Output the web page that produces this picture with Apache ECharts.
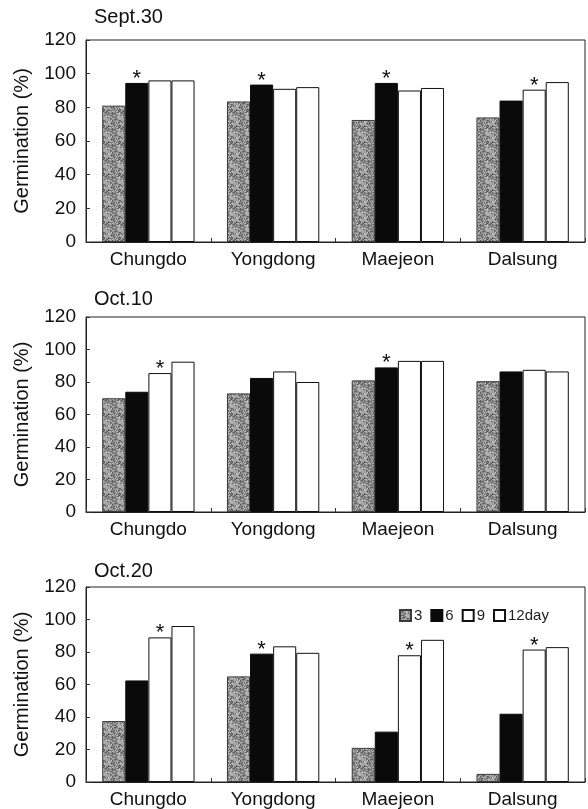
<!DOCTYPE html>
<html>
<head>
<meta charset="utf-8">
<script src="https://cdn.jsdelivr.net/npm/echarts@6/dist/echarts.min.js"></script>
<style>
html,body{margin:0;padding:0;background:#fff;}
#main{width:588px;height:809px;}
</style>
</head>
<body>
<div id="main"></div>
<script>
// ---- data ----
const categories = ['Chungdo', 'Yongdong', 'Maejeon', 'Dalsung'];
const seriesNames = ['3', '6', '9', '12day'];
const panelTitles = ['Sept.30', 'Oct.10', 'Oct.20'];
const yTicks = [0, 20, 40, 60, 80, 100, 120];

const sep30Day3  = [81, 83.5, 72.5, 74];
const sep30Day6  = [94.5, 93.5, 94.5, 84];
const sep30Day9  = [96, 91, 90, 90.5];
const sep30Day12 = [96, 92, 91.5, 95];

const oct10Day3  = [70, 73, 81, 80.5];
const oct10Day6  = [74, 82.5, 89, 86.5];
const oct10Day9  = [85.5, 86.5, 93, 87.5];
const oct10Day12 = [92.5, 80, 93, 86.5];

const oct20Day3  = [37.5, 65, 21, 5];
const oct20Day6  = [62.5, 79, 31, 42];
const oct20Day9  = [89, 83.5, 78, 81.5];
const oct20Day12 = [96, 79.5, 87.5, 83];

// asterisk flags (1 = significant mark above the bar)
const sep30Star3 = [0,0,0,0], sep30Star6 = [1,1,1,0], sep30Star9 = [0,0,0,1], sep30Star12 = [0,0,0,0];
const oct10Star3 = [0,0,0,0], oct10Star6 = [0,0,1,0], oct10Star9 = [1,0,0,0], oct10Star12 = [0,0,0,0];
const oct20Star3 = [0,0,0,0], oct20Star6 = [0,1,0,0], oct20Star9 = [1,0,1,1], oct20Star12 = [0,0,0,0];

const panelValues = [
  [sep30Day3, sep30Day6, sep30Day9, sep30Day12],
  [oct10Day3, oct10Day6, oct10Day9, oct10Day12],
  [oct20Day3, oct20Day6, oct20Day9, oct20Day12]
];
const panelStars = [
  [sep30Star3, sep30Star6, sep30Star9, sep30Star12],
  [oct10Star3, oct10Star6, oct10Star9, oct10Star12],
  [oct20Star3, oct20Star6, oct20Star9, oct20Star12]
];

// ---- styling ----
const FONT = 'Arial, "Liberation Sans", Helvetica, sans-serif';
const gridTops = [40, 317, 587];
const gridHeights = [202, 195, 195];
const titleTops = [7, 289, 561];

// speckled gray texture (deterministic hash, styling only)
const tex = document.createElement('canvas');
tex.width = 16; tex.height = 16;
const tctx = tex.getContext('2d');
const shades = ['#5e5e5e', '#8a8a8a', '#a8a8a8', '#bdbdbd', '#969696', '#7a7a7a', '#b0b0b0'];
for (let y = 0; y < 16; y++) {
  for (let x = 0; x < 16; x++) {
    let h = (x * 73856093) ^ (y * 19349663) ^ ((x + y) * 83492791);
    h = Math.abs(h) % shades.length;
    tctx.fillStyle = shades[h];
    tctx.fillRect(x, y, 1, 1);
  }
}
const grayPattern = { image: tex, repeat: 'repeat' };

const fills = [grayPattern, '#0a0a0a', '#ffffff', '#ffffff'];
const borders = ['#3a3a3a', '#0a0a0a', '#111111', '#111111'];

const grid = [], xAxis = [], yAxis = [], series = [], title = [];
for (let p = 0; p < 3; p++) {
  grid.push({
    left: 86, width: 499, top: gridTops[p], height: gridHeights[p],
    show: true, borderColor: '#222', borderWidth: 1, backgroundColor: '#fff'
  });
  title.push({
    text: panelTitles[p], left: 94, top: titleTops[p], padding: 0,
    textStyle: { fontFamily: FONT, fontSize: 20, fontWeight: 'normal', color: '#111' }
  });
  xAxis.push({
    type: 'category', gridIndex: p, data: categories,
    axisLine: { show: true, lineStyle: { color: '#222', width: 1 } },
    axisTick: { show: true, inside: true, length: 4, lineStyle: { color: '#333' } },
    axisLabel: { fontFamily: FONT, fontSize: 19, color: '#111', margin: 8 },
    splitLine: { show: false }
  });
  yAxis.push({
    type: 'value', gridIndex: p, min: yTicks[0], max: yTicks[yTicks.length - 1], interval: 20,
    name: 'Germination (%)', nameLocation: 'middle', nameGap: 54, nameRotate: 90,
    nameTextStyle: { fontFamily: FONT, fontSize: 20, color: '#111' },
    axisLine: { show: true, lineStyle: { color: '#222', width: 1 } },
    axisTick: { show: true, inside: true, length: 4, lineStyle: { color: '#333' } },
    axisLabel: { fontFamily: FONT, fontSize: 19, color: '#111', margin: 10 },
    splitLine: { show: false }
  });
  for (let s = 0; s < 4; s++) {
    const vals = panelValues[p][s];
    const stars = panelStars[p][s];
    series.push({
      type: 'bar', name: seriesNames[s], xAxisIndex: p, yAxisIndex: p,
      barGap: '0%', barCategoryGap: '26%',
      itemStyle: { color: fills[s], borderColor: borders[s], borderWidth: 1 },
      label: {
        show: false, position: 'top', formatter: '*', distance: -7,
        fontFamily: FONT, fontSize: 22, color: '#111'
      },
      emphasis: { disabled: true },
      animation: false,
      data: vals.map((v, i) => stars[i] ? { value: v, label: { show: true } } : v)
    });
  }
}

const chart = echarts.init(document.getElementById('main'), null, { renderer: 'canvas' });
chart.setOption({
  backgroundColor: '#fff',
  animation: false,
  title: title,
  grid: grid,
  xAxis: xAxis,
  yAxis: yAxis,
  legend: {
    data: seriesNames, left: 394, top: 603,
    itemWidth: 11, itemHeight: 11, itemGap: 8,
    icon: 'rect',
    textStyle: { fontFamily: FONT, fontSize: 15, color: '#222', padding: [0, 0, 0, -2] },
    selectedMode: false
  },
  series: series
});
</script>
</body>
</html>
